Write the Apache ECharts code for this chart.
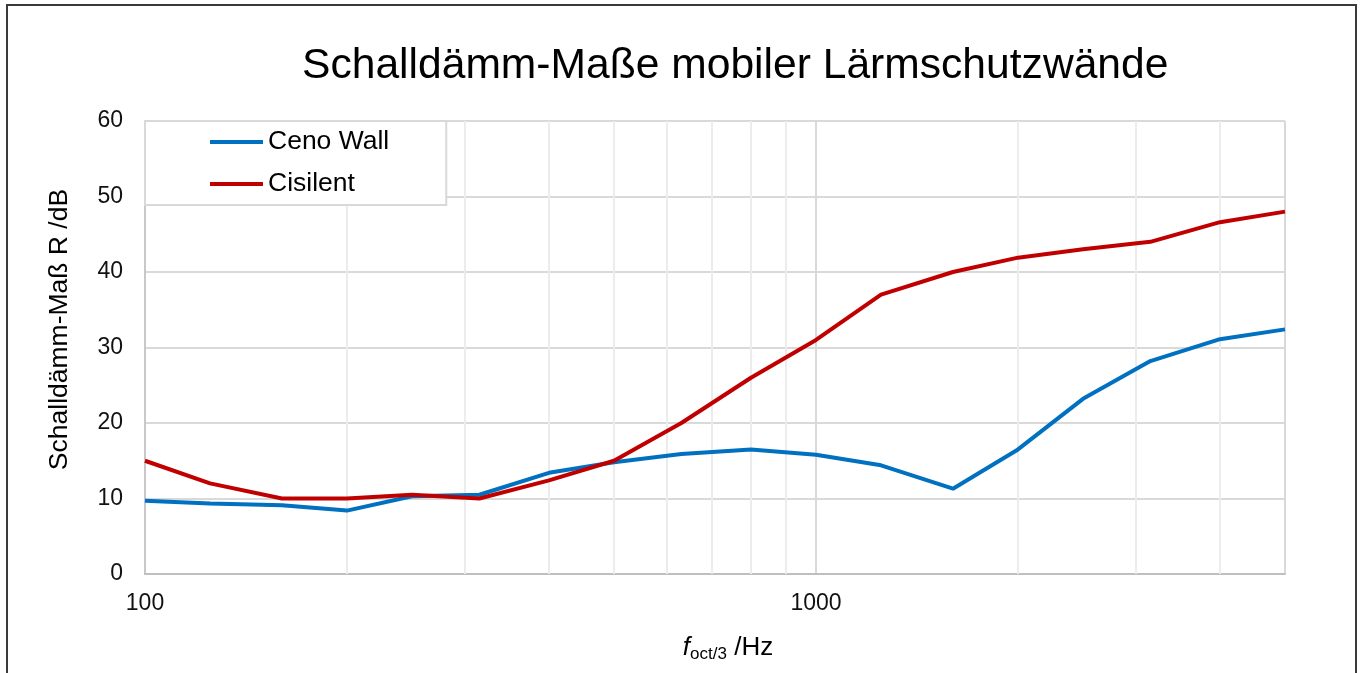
<!DOCTYPE html>
<html>
<head>
<meta charset="utf-8">
<script src="https://cdn.jsdelivr.net/npm/echarts@6/dist/echarts.min.js"></script>
<style>
html,body{margin:0;padding:0;background:#fff;}
#chart{width:1360px;height:673px;}
</style>
</head>
<body>
<div id="chart"></div>
<script>
// Third-octave band centre frequencies (Hz)
const frequencies = [100, 125, 160, 200, 250, 315, 400, 500, 630, 800, 1000, 1250, 1600, 2000, 2500, 3150, 4000, 5000];
// Sound reduction index R (dB)
const cenoWall = [9.7, 9.35, 9.1, 8.4, 10.3, 10.5, 13.4, 14.8, 15.9, 16.5, 15.8, 14.4, 11.3, 16.5, 23.2, 28.2, 31.1, 32.4];
const cisilent = [15.0, 12.0, 10.0, 10.0, 10.5, 10.0, 12.4, 15.0, 20.0, 26.0, 31.0, 37.0, 40.0, 41.9, 43.0, 44.0, 46.6, 48.0];
const seriesNames = ['Ceno Wall', 'Cisilent'];
const xTickLabels = [100, 1000];
const minorGridX = [200, 300, 400, 500, 600, 700, 800, 900, 2000, 3000, 4000];

const FONT = "'Liberation Sans', Arial, sans-serif";
const pairs = (ys) => frequencies.map((f, i) => [f, ys[i]]);

const chart = echarts.init(document.getElementById('chart'), null, {renderer: 'canvas'});
chart.setOption({
  animation: false,
  backgroundColor: '#fff',
  textStyle: {fontFamily: FONT},
  title: {
    text: 'Schalldämm-Maße mobiler Lärmschutzwände',
    left: 302, top: 45, padding: 0,
    textStyle: {fontSize: 42.6, fontWeight: 'normal', color: '#000', fontFamily: FONT}
  },
  graphic: [{
    type: 'rect', silent: true, z: 100,
    shape: {x: 7, y: 5, width: 1349, height: 720},
    style: {fill: 'none', stroke: '#3a3a3a', lineWidth: 2}
  }],
  legend: {
    orient: 'vertical', left: 145, top: 121,
    padding: [6, 57, 6, 65],
    itemWidth: 53, itemHeight: 4, itemGap: 12,
    icon: 'rect',
    backgroundColor: '#fff', borderColor: '#d9d9d9', borderWidth: 2,
    textStyle: {fontSize: 26.5, lineHeight: 30, color: '#000', fontFamily: FONT},
    data: seriesNames
  },
  grid: {left: 145, right: 75, top: 121, bottom: 99, containLabel: false, outerBoundsMode: 'none'},
  xAxis: {
    type: 'log', logBase: 10, min: 100, max: 5000,
    name: '{f|f}{sub|oct/3}{n| /Hz}',
    nameLocation: 'middle', nameGap: 59,
    nameTextStyle: {
      padding: [0, 0, 0, 26],
      rich: {
        f: {fontSize: 26, fontStyle: 'italic', color: '#000', lineHeight: 30, fontFamily: FONT},
        sub: {fontSize: 17, color: '#000', lineHeight: 17, verticalAlign: 'bottom', fontFamily: FONT},
        n: {fontSize: 26, color: '#000', lineHeight: 30, fontFamily: FONT}
      }
    },
    axisLine: {show: true, lineStyle: {color: '#bfbfbf', width: 2}},
    axisTick: {show: false},
    axisLabel: {
      fontSize: 23, color: '#111', margin: 18, fontFamily: FONT,
      formatter: (v) => (xTickLabels.some(t => Math.abs(t - v) < 1e-6) ? String(Math.round(v)) : '')
    },
    splitLine: {show: true, lineStyle: {color: '#d9d9d9', width: 2}}
  },
  yAxis: {
    type: 'value', min: 0, max: 60, interval: 10,
    name: 'Schalldämm-Maß R /dB',
    nameLocation: 'middle', nameGap: 72,
    nameTextStyle: {fontSize: 26.5, color: '#000', fontFamily: FONT, padding: [0, 0, 0, 36]},
    axisLine: {show: true, lineStyle: {color: '#c8c8c8', width: 2}},
    axisTick: {show: false},
    axisLabel: {fontSize: 23, color: '#111', margin: 22, fontFamily: FONT},
    splitLine: {show: true, lineStyle: {color: '#d9d9d9', width: 2}}
  },
  series: [
    {
      name: seriesNames[0], type: 'line', data: pairs(cenoWall),
      symbol: 'none', z: 3,
      lineStyle: {color: '#0070C0', width: 4},
      itemStyle: {color: '#0070C0'},
      markLine: {
        silent: true, symbol: ['none', 'none'], z: 1,
        label: {show: false},
        lineStyle: {color: '#ececec', width: 2, type: 'solid'},
        emphasis: {disabled: true},
        data: minorGridX.map(v => ({xAxis: v}))
      }
    },
    {
      name: seriesNames[1], type: 'line', data: pairs(cisilent),
      symbol: 'none', z: 3,
      lineStyle: {color: '#C00000', width: 4},
      itemStyle: {color: '#C00000'}
    }
  ]
});
</script>
</body>
</html>
